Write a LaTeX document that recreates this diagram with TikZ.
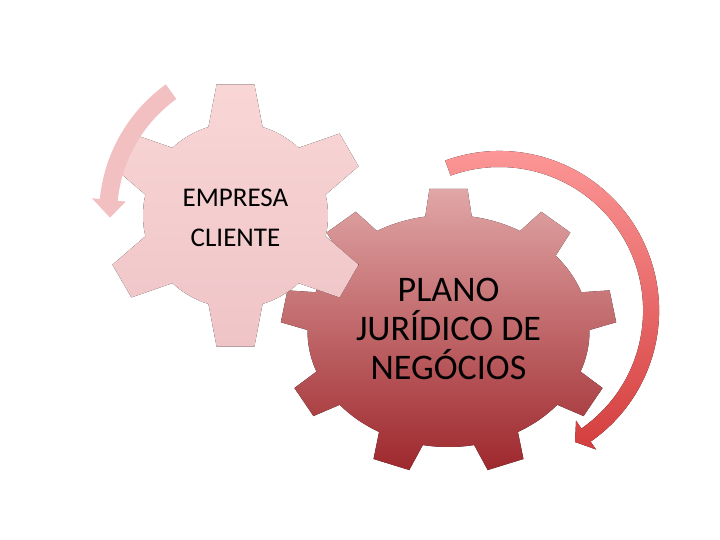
\documentclass[tikz,border=0pt]{standalone}
\usepackage{fontspec}
\setmainfont{Carlito}
\usetikzlibrary{calc}
\definecolor{pinktop}{RGB}{249,214,214}
\definecolor{pinkbot}{RGB}{239,196,199}
\definecolor{redtop}{RGB}{225,166,166}
\definecolor{redbot}{RGB}{158,40,45}
\definecolor{arrowtop}{RGB}{255,156,156}
\definecolor{arrowbot}{RGB}{212,62,62}
\definecolor{arrowpink}{RGB}{243,192,194}
\tikzset{
    smallgear/.style={top color=pinktop, bottom color=pinkbot, draw=none},
    biggear/.style={top color=redtop, bottom color=redbot, draw=none},
    ringarrow/.style={top color=arrowtop, bottom color=arrowbot, draw=none},
    backarrow/.style={fill=arrowpink, draw=none},
    gearlabel/.style={align=center, text=black, inner sep=0pt}
}

\begin{document}
\begin{tikzpicture}[x=0.5pt, y=0.5pt]
	\fill[white] (0,0) rectangle (720,540);
	\useasboundingbox (0,0) rectangle (720,540);
	\coordinate (bigc) at (448.5,209);
	\coordinate (smallc) at (235.5,324.5);
	\coordinate (ringc) at (499.5,229.4);
	\coordinate (backc) at (260,325);

	% big gear, nine teeth
	\fill[biggear] ($(bigc)+(80.5:141 and 116)$)
		\foreach \k [evaluate=\k as \a using 90+40*\k] in {0,...,8}{
			-- ($(bigc)+({\a-6.5}:168 and 143)$) -- ($(bigc)+({\a+6.5}:168 and 143)$)
			-- ($(bigc)+({\a+9.5}:141 and 116)$)
			arc[start angle=\a+9.5, end angle=\a+30.5, x radius=141, y radius=116]
		} -- cycle;

	\fill[ringarrow] ($(ringc)+(109.9:159.6)$)
		arc[start angle=109.9, end angle=-55.2, radius=159.6]
		-- ($(ringc)+(-55.2:169.1)$) -- ($(ringc)+(-60.1:151.6)$)
		-- ($(ringc)+(-55.2:134.1)$) -- ($(ringc)+(-55.2:143.6)$)
		arc[start angle=-55.2, end angle=109.9, radius=143.6] -- cycle;

	% small gear, six teeth
	\fill[smallgear] ($(smallc)+(73:92.5)$)
		\foreach \k [evaluate=\k as \a using 90+60*\k] in {0,...,5}{
			-- ($(smallc)+({\a-8.2}:132.5)$) -- ($(smallc)+({\a+8.2}:132.5)$)
			-- ($(smallc)+({\a+17}:92.5)$)
			arc[start angle=\a+17, end angle=\a+43, radius=92.5]
		} -- cycle;

	\fill[backarrow] ($(backc)+(125.8:161)$)
		arc[start angle=125.8, end angle=174.3, radius=161]
		-- ($(backc)+(174.3:169)$) -- ($(backc)+(181:150)$)
		-- ($(backc)+(174.3:135)$) -- ($(backc)+(174.3:143)$)
		arc[start angle=174.3, end angle=125.8, radius=143] -- cycle;

	\node[gearlabel, font=\fontsize{13.5}{20}\selectfont] (cliente) at ($(smallc)+(0,-2)$) {EMPRESA\\CLIENTE};
	\node[gearlabel, font=\fontsize{18}{19.5}\selectfont] (plano) at ($(bigc)+(0,2)$) {PLANO\\JURÍDICO DE\\NEGÓCIOS};
\end{tikzpicture}
\end{document}
